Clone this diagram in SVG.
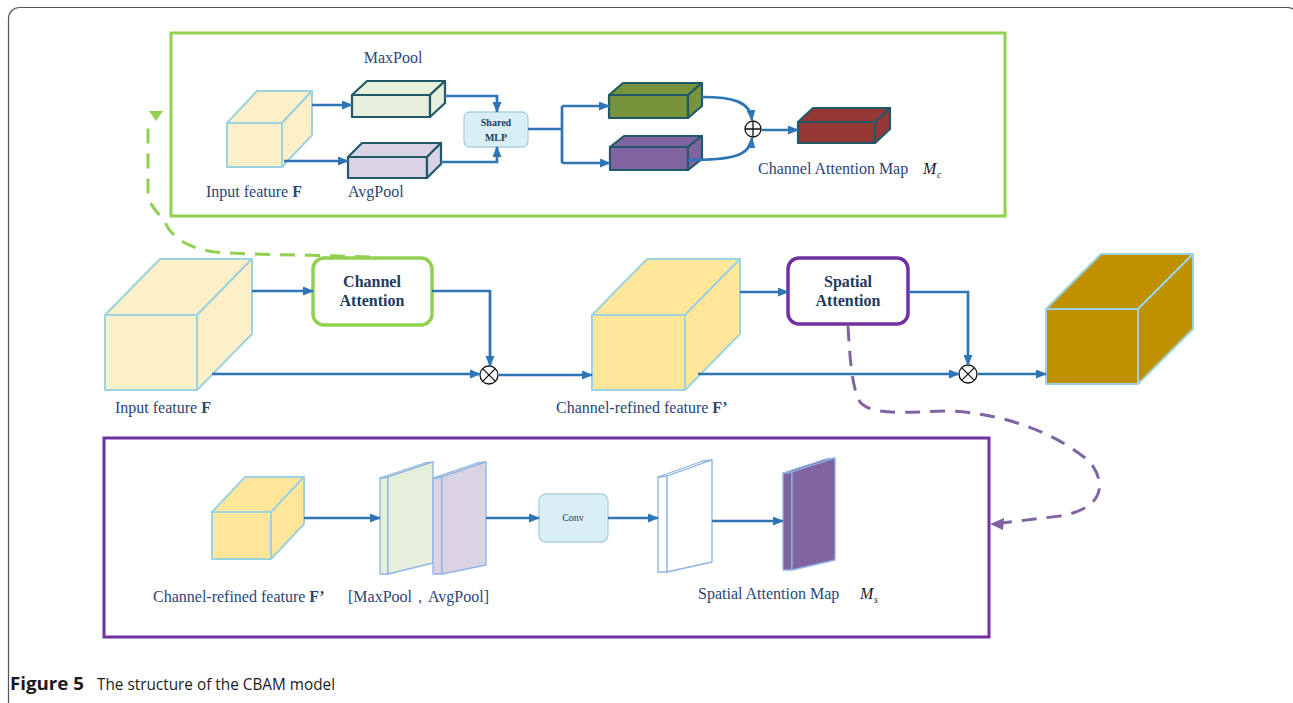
<svg xmlns="http://www.w3.org/2000/svg" width="1293" height="703" viewBox="0 0 1293 703">
<style>
.lbl{font-family:"Liberation Serif","Times New Roman",serif;font-size:16px;fill:#2a4676}
.bold{font-weight:bold}
.math{font-family:"Liberation Serif","Times New Roman",serif;font-size:16px;font-style:italic;fill:#1a1a1a}
.sub{font-size:10px}
.box-t{font-family:"Liberation Serif","Times New Roman",serif;font-weight:bold;font-size:16px;fill:#203a60;text-anchor:middle}
.conn{fill:none;stroke:#2e75b6;stroke-width:2.7}
.cube{stroke:#9dd3e0;stroke-width:2;stroke-linejoin:round}
.bar{stroke:#215968;stroke-width:2.2;stroke-linejoin:round}
.slab{stroke:#8eb4e3;stroke-width:1.3;stroke-linejoin:round}
.op{fill:#fff;stroke:#111;stroke-width:1.3}
.cap{font-family:"Open Sans","Noto Sans",sans-serif;font-size:17px;fill:#1a1a1a}
</style>
<defs>
<marker id="ah" viewBox="0 0 11 9" refX="10" refY="4.5" markerWidth="11" markerHeight="9" markerUnits="userSpaceOnUse" orient="auto">
<path d="M0,0 L11,4.5 L0,9 z" fill="#2e75b6"/>
</marker>
</defs>
<rect x="8.5" y="7.5" width="1290" height="720" rx="11" fill="#fff" stroke="#555" stroke-width="1.2"/>

<!-- Channel attention detail -->
<g id="channel-detail">
<rect x="171" y="33" width="834" height="183" fill="none" stroke="#92d050" stroke-width="3"/>
</g>
<g id="top-input">
<g class="cube" fill="#fdefc8">
<rect x="227" y="123" width="55" height="44"/>
<polygon points="227,123 257,91 312,91 282,123"/>
<polygon points="282,123 312,91 312,135 282,167"/>
</g>
<text class="lbl" x="206" y="197">Input feature <tspan class="bold">F</tspan></text>
</g>
<g id="maxpool">
<g class="bar" fill="#e6efdc">
<rect x="352" y="95" width="78" height="22"/>
<polygon points="352,95 367,81 445,81 430,95"/>
<polygon points="430,95 445,81 445,103 430,117"/>
</g>
<text class="lbl" x="393" y="63" text-anchor="middle">MaxPool</text>
</g>
<g id="avgpool">
<g class="bar" fill="#d9d3e3">
<rect x="348" y="157" width="79" height="21"/>
<polygon points="348,157 362,143 441,143 427,157"/>
<polygon points="427,157 441,143 441,164 427,178"/>
</g>
<text class="lbl" x="348" y="197">AvgPool</text>
</g>
<g id="shared-mlp">
<rect x="464" y="112" width="64" height="35" rx="6" fill="#daeef5" stroke="#a9d0e0" stroke-width="1.3"/>
<text x="496" y="126" text-anchor="middle" font-family="Liberation Serif,serif" font-weight="bold" font-size="10" fill="#203a60">Shared</text>
<text x="496" y="141" text-anchor="middle" font-family="Liberation Serif,serif" font-weight="bold" font-size="10" fill="#203a60">MLP</text>
</g>
<g id="mlp-out-max">
<g class="bar" fill="#77933c">
<rect x="609" y="95" width="79" height="23"/>
<polygon points="609,95 623,83 702,83 688,95"/>
<polygon points="688,95 702,83 702,106 688,118"/>
</g>
</g>
<g id="mlp-out-avg">
<g class="bar" fill="#8064a2">
<rect x="610" y="147" width="78" height="23"/>
<polygon points="610,147 624,136 702,136 688,147"/>
<polygon points="688,147 702,136 702,159 688,170"/>
</g>
</g>
<g id="add-op">
<circle class="op" cx="753" cy="129" r="8"/>
<path d="M745,129 H761 M753,121 V137" stroke="#111" stroke-width="1.3"/>
</g>
<g id="channel-map">
<g class="bar" fill="#953735">
<rect x="798" y="122" width="77" height="21"/>
<polygon points="798,122 813,108 890,108 875,122"/>
<polygon points="875,122 890,108 890,129 875,143"/>
</g>
<text class="lbl" x="758" y="174">Channel Attention Map</text>
<text class="math" x="923" y="174">M</text>
<text class="math sub" x="937" y="178">c</text>
</g>

<!-- Main row -->
<g id="input-feature">
<g class="cube" fill="#fdefc8">
<rect x="105" y="315" width="92" height="75"/>
<polygon points="105,315 160,259 252,259 197,315"/>
<polygon points="197,315 252,259 252,334 197,390"/>
</g>
<text class="lbl" x="115" y="413">Input feature <tspan class="bold">F</tspan></text>
</g>
<g id="channel-attention">
<rect x="313" y="258" width="119" height="67" rx="11" fill="#fff" stroke="#92d050" stroke-width="3.5"/>
<text class="box-t" x="372" y="287">Channel</text>
<text class="box-t" x="372" y="306">Attention</text>
</g>
<g id="mul-1">
<circle class="op" cx="489" cy="375" r="9"/>
<path d="M482.6,368.6 L495.4,381.4 M495.4,368.6 L482.6,381.4" stroke="#111" stroke-width="1.3"/>
</g>
<g id="refined-feature">
<g class="cube" fill="#ffe699">
<rect x="592" y="315" width="93" height="75"/>
<polygon points="592,315 647,259 740,259 685,315"/>
<polygon points="685,315 740,259 740,334 685,390"/>
</g>
<text class="lbl" x="556" y="413">Channel-refined feature <tspan class="bold">F’</tspan></text>
</g>
<g id="spatial-attention">
<rect x="788" y="258" width="120" height="66" rx="11" fill="#fff" stroke="#7030a0" stroke-width="3.5"/>
<text class="box-t" x="848" y="287">Spatial</text>
<text class="box-t" x="848" y="306">Attention</text>
</g>
<g id="mul-2">
<circle class="op" cx="968" cy="374" r="9"/>
<path d="M961.6,367.6 L974.4,380.4 M974.4,367.6 L961.6,380.4" stroke="#111" stroke-width="1.3"/>
</g>
<g id="refined-output">
<g class="cube" fill="#bf9000">
<rect x="1046" y="309" width="92" height="75"/>
<polygon points="1046,309 1101,254 1193,254 1138,309"/>
<polygon points="1138,309 1193,254 1193,329 1138,384"/>
</g>
</g>

<!-- Spatial attention detail -->
<g id="spatial-detail">
<rect x="104" y="438" width="885" height="199" fill="none" stroke="#7030a0" stroke-width="3"/>
</g>
<g id="bottom-input">
<g class="cube" fill="#ffe699">
<rect x="212" y="512" width="59" height="47"/>
<polygon points="212,512 245,477 304,477 271,512"/>
<polygon points="271,512 304,477 304,524 271,559"/>
</g>
<text class="lbl" x="153" y="602">Channel-refined feature <tspan class="bold">F’</tspan></text>
</g>
<g id="pool-maps">
<g class="slab" fill="#e6efdc">
<polygon points="380,478 388,477 388,574 380,574"/>
<polygon points="380,478 425,463 433,462 388,477"/>
<polygon points="388,477 433,462 433,563 388,574"/>
</g>
<g class="slab" fill="#d9d3e3">
<polygon points="433,478 442,477 442,574 433,574"/>
<polygon points="433,478 477,463 486,462 442,477"/>
<polygon points="442,477 486,462 486,565 442,574"/>
</g>
<text class="lbl" x="348" y="602">[MaxPool，AvgPool]</text>
</g>
<g id="conv">
<rect x="539" y="494" width="69" height="48" rx="7" fill="#daeef5" stroke="#a9d0e0" stroke-width="1.3"/>
<text x="573" y="521" text-anchor="middle" font-family="Liberation Serif,serif" font-size="10" fill="#203a60">Conv</text>
</g>
<g id="conv-out">
<g class="slab" fill="#fff">
<polygon points="658,477 667,476 667,572 658,572"/>
<polygon points="658,477 703,461 712,460 667,476"/>
<polygon points="667,476 712,460 712,562 667,572"/>
</g>
</g>
<g id="spatial-map">
<g class="slab" fill="#8064a2">
<polygon points="783,473 792,472 792,570 783,570"/>
<polygon points="783,473 826,459 835,458 792,472"/>
<polygon points="792,472 835,458 835,560 792,570"/>
</g>
<text class="lbl" x="698" y="599">Spatial Attention Map</text>
<text class="math" x="860" y="599">M</text>
<text class="math sub" x="874" y="603">s</text>
</g>

<!-- Connectors -->
<g id="connectors">
<path class="conn" d="M312,105 H352" marker-end="url(#ah)"/>
<path class="conn" d="M284,161 H348" marker-end="url(#ah)"/>
<path class="conn" d="M445,96 H497 V112" marker-end="url(#ah)"/>
<path class="conn" d="M441,162 H497 V147" marker-end="url(#ah)"/>
<path class="conn" d="M528,129 H562 M562,106 V163"/>
<path class="conn" d="M562,106 H609" marker-end="url(#ah)"/>
<path class="conn" d="M562,163 H610" marker-end="url(#ah)"/>
<path class="conn" d="M702,97 C732,97 750,101 752,120" marker-end="url(#ah)"/>
<path class="conn" d="M688,160 C732,160 750,156 752,138" marker-end="url(#ah)"/>
<path class="conn" d="M762,130 H798" marker-end="url(#ah)"/>

<path class="conn" d="M252,291 H313" marker-end="url(#ah)"/>
<path class="conn" d="M432,291 H490 V366" marker-end="url(#ah)"/>
<path class="conn" d="M212,374 H480" marker-end="url(#ah)"/>
<path class="conn" d="M499,375 H592" marker-end="url(#ah)"/>
<path class="conn" d="M740,292 H788" marker-end="url(#ah)"/>
<path class="conn" d="M908,292 H968 V365" marker-end="url(#ah)"/>
<path class="conn" d="M698,374 H959" marker-end="url(#ah)"/>
<path class="conn" d="M978,374 H1046" marker-end="url(#ah)"/>

<path class="conn" d="M304,518 H380" marker-end="url(#ah)"/>
<path class="conn" d="M486,518 H539" marker-end="url(#ah)"/>
<path class="conn" d="M608,518 H658" marker-end="url(#ah)"/>
<path class="conn" d="M712,521 H783" marker-end="url(#ah)"/>

<path d="M370,257 C320,255 250,255 215,252 C185,248 170,235 165,222 C158,212 148,205 148,192 L148,128" fill="none" stroke="#92d050" stroke-width="3" stroke-dasharray="15 10"/>
<polygon points="149,111 163,111 156,121" fill="#92d050"/>

<path d="M848,326 C850,360 852,388 860,402 C872,416 905,412 950,411 C1010,414 1060,436 1090,462 C1110,488 1098,510 1060,516 L1002,523" fill="none" stroke="#8064a2" stroke-width="3" stroke-dasharray="15 10"/>
<polygon points="990,524 1004,518 1003,530" fill="#8064a2"/>
</g>

<text class="cap" x="10" y="690" font-weight="bold" textLength="74" lengthAdjust="spacingAndGlyphs">Figure 5</text>
<text class="cap" x="97" y="690" textLength="238" lengthAdjust="spacingAndGlyphs">The structure of the CBAM model</text>
</svg>
